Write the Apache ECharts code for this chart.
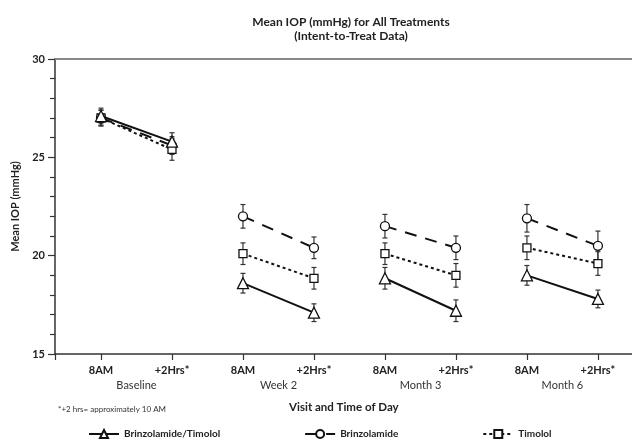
<!DOCTYPE html>
<html>
<head>
<meta charset="utf-8">
<script src="https://cdn.jsdelivr.net/npm/echarts@6/dist/echarts.min.js"></script>
<style>html,body{margin:0;padding:0;background:#fff}#c{width:632px;height:441px}</style>
</head>
<body>
<div id="c"></div>
<script>
// ---- data ----
const timeLabels = ['8AM', '+2Hrs*', '8AM', '+2Hrs*', '8AM', '+2Hrs*', '8AM', '+2Hrs*'];
const visitLabels = ['Baseline', 'Week 2', 'Month 3', 'Month 6'];
const yTickLabels = ['15', '20', '25', '30'];
const seriesNames = ['Brinzolamide/Timolol', 'Brinzolamide', 'Timolol'];
const brinzTim    = [27.1, 25.8, 18.6, 17.1, 18.85, 17.2, 19.0, 17.8];
const brinzTimErr = [0.4, 0.45, 0.5, 0.45, 0.55, 0.55, 0.5, 0.45];
const brinz       = [27.0, 25.6, 22.0, 20.4, 21.5, 20.4, 21.9, 20.5];
const brinzErr    = [0.4, 0.45, 0.6, 0.55, 0.6, 0.6, 0.7, 0.75];
const tim         = [27.0, 25.4, 20.1, 18.85, 20.1, 19.0, 20.4, 19.6];
const timErr      = [0.4, 0.55, 0.55, 0.55, 0.55, 0.6, 0.6, 0.6];
const footnote = '*+2 hrs= approximately 10 AM';

// ---- chart ----
const FONT = 'Lato, "Open Sans", sans-serif';
const XMIN = -0.648, XMAX = 7.48;
const idx = timeLabels.map((_, i) => i);
const visitCenters = visitLabels.map((_, g) => 2 * g + 0.5);

const styles = [
  { symbol: 'triangle', size: 11, dash: 'solid', w: 2, z: 6 },
  { symbol: 'circle', size: 9, dash: [12, 9], w: 2, z: 4 },
  { symbol: 'rect', size: 8, dash: [3, 3], w: 2, z: 5 }
];
const vals = [brinzTim, brinz, tim];
const errs = [brinzTimErr, brinzErr, timErr];

const series = [];
vals.forEach((v, s) => {
  const st = styles[s];
  series.push({
    type: 'custom',
    name: seriesNames[s] + ' err',
    xAxisIndex: 0, yAxisIndex: 0,
    z: 1,
    silent: true,
    data: v.map((y, i) => [i, y - errs[s][i], y + errs[s][i]]),
    renderItem: function (params, api) {
      const x = api.value(0);
      const lo = api.coord([x, api.value(1)]);
      const hi = api.coord([x, api.value(2)]);
      const c = 2.5;
      const style = { stroke: '#333', lineWidth: 1.2 };
      return {
        type: 'group',
        children: [
          { type: 'line', shape: { x1: lo[0], y1: lo[1], x2: hi[0], y2: hi[1] }, style },
          { type: 'line', shape: { x1: lo[0] - c, y1: lo[1], x2: lo[0] + c, y2: lo[1] }, style },
          { type: 'line', shape: { x1: hi[0] - c, y1: hi[1], x2: hi[0] + c, y2: hi[1] }, style }
        ]
      };
    }
  });
  visitLabels.forEach((_, g) => {
    series.push({
      type: 'line',
      name: seriesNames[s],
      xAxisIndex: 0, yAxisIndex: 0,
      z: st.z,
      data: [[2 * g, v[2 * g]], [2 * g + 1, v[2 * g + 1]]],
      symbol: st.symbol,
      symbolSize: st.size,
      showAllSymbol: true,
      itemStyle: { color: '#fff', borderColor: '#111', borderWidth: 1.3 },
      lineStyle: { color: '#111', width: st.w, type: st.dash },
      emphasis: { disabled: true },
      animation: false
    });
  });
});

const chart = echarts.init(document.getElementById('c'), null, { renderer: 'canvas' });
chart.setOption({
  animation: false,
  backgroundColor: '#fff',
  textStyle: { fontFamily: FONT },
  title: {
    text: 'Mean IOP (mmHg) for All Treatments\n(Intent-to-Treat Data)',
    left: 346, top: 10, textAlign: 'center',
    textStyle: { fontFamily: FONT, fontSize: 12, fontWeight: 'bold', color: '#222', lineHeight: 14 }
  },
  grid: { left: 55, right: 0, top: 59, bottom: 87 },
  graphic: [
    { type: 'text', left: 58, top: 405, style: { text: footnote, fontFamily: FONT, fontSize: 8, fill: '#333' } },
    { type: 'text', left: 289, top: 401, style: { text: 'Visit and Time of Day', fontFamily: FONT, fontSize: 11.5, fontWeight: 'bold', fill: '#222' } }
  ],
  legend: {
    data: seriesNames,
    left: 83, top: 424,
    itemWidth: 30, itemHeight: 10, itemGap: 84,
    textStyle: { fontFamily: FONT, fontSize: 10, fontWeight: 'bold', color: '#222' },
    selectedMode: false
  },
  xAxis: [
    {
      type: 'value', min: XMIN, max: XMAX, position: 'bottom',
      axisLine: { onZero: false, lineStyle: { color: '#333', width: 1.5 } },
      axisTick: { show: true, customValues: [XMIN].concat(idx), length: 6, lineStyle: { color: '#333', width: 1.2 } },
      axisLabel: {
        customValues: idx, margin: 11,
        formatter: v => timeLabels[Math.round(v)],
        fontFamily: FONT, fontSize: 11, fontWeight: 'bold', color: '#222'
      },
      splitLine: { show: false }
    },
    {
      type: 'value', min: XMIN, max: XMAX, position: 'bottom',
      axisLine: { show: false, onZero: false }, axisTick: { show: false },
      axisLabel: {
        customValues: visitCenters, margin: 26,
        formatter: v => visitLabels[Math.round((v - 0.5) / 2)],
        fontFamily: FONT, fontSize: 11, color: '#333'
      },
      splitLine: { show: false }
    },
    {
      type: 'value', min: XMIN, max: XMAX, position: 'top',
      axisLine: { onZero: false, lineStyle: { color: '#888', width: 2 } },
      axisTick: { show: false }, axisLabel: { show: false }, splitLine: { show: false }
    }
  ],
  yAxis: {
    type: 'value', min: 15, max: 30, interval: 5, position: 'left',
    name: 'Mean IOP (mmHg)', nameLocation: 'middle', nameGap: 34, nameRotate: 90,
    nameTextStyle: { fontFamily: FONT, fontSize: 11, fontWeight: 'bold', color: '#222' },
    axisLine: { show: true, onZero: false, lineStyle: { color: '#333', width: 1.5 } },
    axisTick: { show: true, length: 7, lineStyle: { color: '#333', width: 1.2 } },
    minorTick: { show: true, splitNumber: 5, length: 5, lineStyle: { color: '#333', width: 1.2 } },
    axisLabel: {
      margin: 10, fontFamily: FONT, fontSize: 11, fontWeight: 'bold', color: '#222',
      formatter: v => yTickLabels[yTickLabels.indexOf(String(v))]
    },
    splitLine: { show: false }
  },
  series
});
</script>
</body>
</html>
